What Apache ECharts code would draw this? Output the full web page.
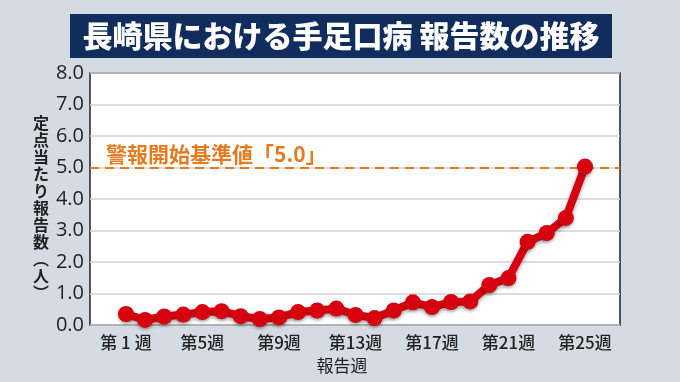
<!DOCTYPE html>
<html><head><meta charset="utf-8">
<script src="https://cdn.jsdelivr.net/npm/echarts@6/dist/echarts.min.js"></script>
<style>html,body{margin:0;padding:0;background:#d4dbe2;}#c{width:680px;height:382px;}</style>
</head><body><div id="c"></div>
<script>
const weeks = [1,2,3,4,5,6,7,8,9,10,11,12,13,14,15,16,17,18,19,20,21,22,23,24,25];
const values = [0.35,0.16,0.27,0.33,0.41,0.44,0.28,0.19,0.24,0.41,0.46,0.52,0.32,0.22,0.46,0.72,0.57,0.73,0.75,1.27,1.49,2.64,2.92,3.4,5.03];
const weekLabels = [1,5,9,13,17,21,25];
const yTicks = [0,1,2,3,4,5,6,7,8];
const threshold = 5.0;
const titleText = '長崎県における手足口病 報告数の推移';
const thresholdText = '警報開始基準値「5.0」';
const yName = '定点当たり報告数（人）';
const xName = '報告週';

const font = '"Noto Sans CJK JP","Open Sans",sans-serif';
const chart = echarts.init(document.getElementById('c'));
const yVertical = yName.replace('（','︵').replace('）','︶').split('').join('\n');
chart.setOption({
  backgroundColor: '#d4dbe2',
  animation: false,
  graphic: [
    {type:'rect', shape:{x:70,y:14,width:542,height:44}, style:{fill:'#112d5e'}},
    {type:'text', x:341, y:36, style:{text:titleText, fill:'#fff', font:'900 30px '+font, textAlign:'center', textVerticalAlign:'middle'}},
    {type:'text', x:41, y:208, style:{text:yVertical, fill:'#222', font:'bold 16px '+font, textAlign:'center', textVerticalAlign:'middle', lineHeight:17}},
    {type:'text', x:342, y:366, style:{text:xName, fill:'#222', font:'17px '+font, textAlign:'center', textVerticalAlign:'middle'}}
  ],
  grid: {left:90, right:60, top:73, bottom:57, show:true, backgroundColor:'#fff', borderColor:'#222', borderWidth:1.5},
  xAxis: {
    type:'value', min:-0.88, max:26.83,
    axisLine:{show:false}, axisTick:{show:false}, splitLine:{show:false},
    axisLabel:{customValues: weekLabels, formatter: v => v===1 ? '第 1 週' : '第'+v+'週', color:'#222', fontSize:17, fontWeight:500, fontFamily:font, margin:9}
  },
  yAxis: {
    type:'value', min:0, max:8, interval:1,
    axisLine:{show:false}, axisTick:{show:false},
    splitLine:{lineStyle:{color:'#d2d2d2', width:1.5}},
    axisLabel:{formatter: v => yTicks.includes(v) ? v.toFixed(1) : '', color:'#222', fontSize:20, fontFamily:'"Open Sans",sans-serif', margin:6}
  },
  series: [{
    type:'line',
    data: weeks.map((w,i)=>[w, values[i]]),
    symbol:'circle', symbolSize:16,
    lineStyle:{color:'#d6000f', width:8, shadowColor:'rgba(0,0,0,0.35)', shadowBlur:4, shadowOffsetY:2},
    itemStyle:{color:'#d6000f', shadowColor:'rgba(0,0,0,0.3)', shadowBlur:3, shadowOffsetY:2},
    z:5,
    markLine:{
      silent:true, symbol:'none',
      lineStyle:{color:'#e57a1e', type:[9,6], width:2},
      label:{show:true, position:'insideStartTop', formatter: thresholdText, color:'#e57a1e', fontSize:21, fontWeight:'bold', fontFamily:font, distance:[16,3]},
      data:[{yAxis: threshold}]
    }
  }]
});
</script></body></html>
